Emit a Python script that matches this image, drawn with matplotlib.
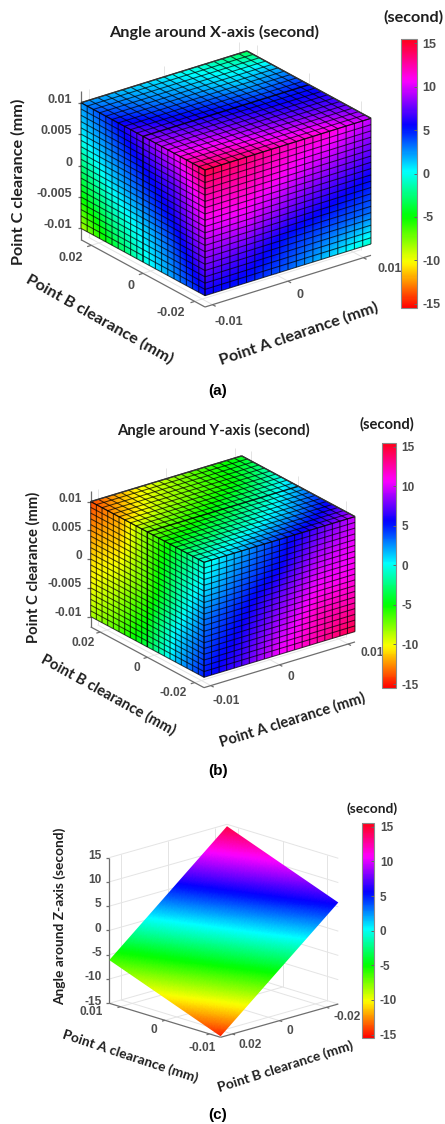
import numpy as np
import matplotlib
matplotlib.use("Agg")
import matplotlib.pyplot as plt
from matplotlib.cm import ScalarMappable
from matplotlib.collections import LineCollection
from matplotlib.colors import Normalize
from matplotlib.patches import Polygon
from matplotlib.transforms import Affine2D

plt.rcParams["axes.unicode_minus"] = False

# values, in seconds. rows run top to bottom (C) or along A,
# columns run along the horizontal of each face
xangle_top = [[2.5, 5, 8, 10.5, 14.5],
              [1.5, 3.5, 6.5, 10, 13.5],
              [0.5, 2.5, 5.5, 8.5, 12],
              [-1, 1, 4.5, 7.5, 11.5],
              [-3.5, 2, 5, 7, 9.5]]
xangle_left = [[2.5, 5, 8, 10.5, 14.5],
               [0.5, 3, 5.5, 7.5, 12],
               [-2.5, 1, 3.5, 6, 10],
               [-5, -1.5, 1, 4, 8],
               [-8.5, -4, -0.5, 2.5, 5.5]]
xangle_right = [[14.5, 13.5, 12, 11.5, 9.5],
                [12, 12, 10.5, 9, 7.5],
                [10, 10, 8, 6.5, 5.2],
                [8, 7, 5, 4, 3.2],
                [5.5, 5, 3.5, 1.2, -1]]

yangle_top = [[-14, -12, -7.5, -4, -0.5],
              [-11, -9, -6, -2.5, 2],
              [-8.5, -7, -4, -0.5, 4.5],
              [-6, -5, -1.5, 2, 7],
              [-4.5, -1.5, 2, 5.5, 9.5]]
yangle_left = [[-14, -12, -7.5, -4, -0.5],
               [-12.5, -11, -7, -2.5, 1],
               [-11, -9.5, -6.5, -1.5, 3],
               [-10, -8, -5, 0.5, 4],
               [-8.5, -6.5, -3.5, 1.5, 5]]
yangle_right = [[-0.5, 2, 4.5, 7, 9.5],
                [1, 3.5, 5.5, 9, 10.5],
                [3, 5, 7.5, 10.5, 11],
                [4, 6, 9, 12, 12.5],
                [5, 7, 10.5, 12.5, 14.5]]

# plane of panel c, [A low, A high] x [B low, B high]
zangle_plane = [[5.9, -14.8],
                [14.6, -6.3]]

cbar_ticks = [-15, -10, -5, 0, 5, 10, 15]
clearance_c_ticks = [-0.01, -0.005, 0, 0.005, 0.01]
clearance_c_labels = ["-0.01", "-0.005", "0", "0.005", "0.01"]
clearance_a_ticks = [-0.01, 0, 0.01]
clearance_a_labels = ["-0.01", "0", "0.01"]
clearance_b_ticks = [-0.02, 0, 0.02]
clearance_b_labels = ["-0.02", "0", "0.02"]
zangle_ticks = [-15, -10, -5, 0, 5, 10, 15]
zangle_labels = ["-15", "-10", "-5", "0", "5", "10", "15"]

W, H = 445, 1124
LABEL_FONT = "Lato"
TICK_FONT = "Liberation Sans"
TICK_COLOR = "#4d4d4d"
norm = Normalize(-15.5, 15.5)

fig = plt.figure(figsize=(W / 100, H / 100), dpi=100)
ax = fig.add_axes([0, 0, 1, 1])


class View:
    # plain parallel projection of one panel onto figure pixels
    def __init__(self, origin, avec, bvec, height, alim, blim, zlim):
        self.origin = np.array(origin, float)
        self.avec = np.array(avec, float)
        self.bvec = np.array(bvec, float)
        self.height = height
        self.alim, self.blim, self.zlim = alim, blim, zlim

    def __call__(self, a, b, z):
        fa = (a + self.alim) / (2 * self.alim)
        fb = (b + self.blim) / (2 * self.blim)
        fz = (self.zlim - z) / (2 * self.zlim)
        return self.origin + fa * self.avec + fb * self.bvec + np.array([0, fz * self.height])


def draw_face(values, p0, pu, pv, cells=None, mid=None):
    # values[v][u], knots sit on the face edges, imshow does the colour blending
    values = np.array(values, float)
    nv, nu = values.shape
    p0, pu, pv = np.array(p0), np.array(pu), np.array(pv)
    du = 0.5 / (nu - 1)
    dv = 0.5 / (nv - 1)
    m = np.array([[pu[0] - p0[0], pv[0] - p0[0], p0[0]],
                  [pu[1] - p0[1], pv[1] - p0[1], p0[1]],
                  [0, 0, 1]])
    im = ax.imshow(values, cmap="hsv", norm=norm, origin="lower", aspect="auto",
                   extent=(-du, 1 + du, -dv, 1 + dv), interpolation="bilinear",
                   interpolation_stage="data", transform=Affine2D(m) + ax.transData, zorder=3)
    corners = [p0, pu, pu + pv - p0, pv]
    im.set_clip_path(Polygon(corners, transform=ax.transData))
    if cells is None:
        return
    segs = []
    for f in np.linspace(0, 1, cells + 1):
        segs.append([p0 + f * (pu - p0), pv + f * (pu - p0)])
        segs.append([p0 + f * (pv - p0), pu + f * (pv - p0)])
    grid = LineCollection(segs, colors="black", linewidths=0.75, alpha=0.72, zorder=4)
    grid.set_snap(False)
    ax.add_collection(grid)
    if mid is not None:
        line = LineCollection([[p0 + mid * (pu - p0), pv + mid * (pu - p0)]],
                              colors="black", linewidths=1.1, alpha=0.6, zorder=4)
        line.set_snap(False)
        ax.add_collection(line)


def draw_box(view, zbot, ztop, aticks, bticks, zticks, wall_a, wall_b, edge_a, edge_b, zaxis):
    al, bl = view.alim, view.blim
    grid = []
    for z in zticks:
        grid.append([view(wall_a, -bl, z), view(wall_a, bl, z)])
        grid.append([view(-al, wall_b, z), view(al, wall_b, z)])
    for b in bticks:
        grid.append([view(wall_a, b, zbot), view(wall_a, b, ztop)])
        grid.append([view(-al, b, zbot), view(al, b, zbot)])
    for a in aticks:
        grid.append([view(a, wall_b, zbot), view(a, wall_b, ztop)])
        grid.append([view(a, -bl, zbot), view(a, bl, zbot)])
    ax.add_collection(LineCollection(grid, colors="#e4e4e4", linewidths=0.7, zorder=1))

    axes_lines = [[view(-al, edge_b, zbot), view(al, edge_b, zbot)],
                  [view(edge_a, -bl, zbot), view(edge_a, bl, zbot)],
                  [view(zaxis[0], zaxis[1], zbot), view(zaxis[0], zaxis[1], ztop)]]
    for a in aticks:
        q = view(a, edge_b, zbot)
        axes_lines.append([q, q - 0.025 * (view(a, -edge_b, zbot) - q)])
    for b in bticks:
        q = view(edge_a, b, zbot)
        axes_lines.append([q, q - 0.025 * (view(-edge_a, b, zbot) - q)])
    for z in zticks:
        q = view(zaxis[0], zaxis[1], z)
        axes_lines.append([q, q + np.array([-3.5, 0])])
    ax.add_collection(LineCollection(axes_lines, colors="#6e6e6e", linewidths=0.9, zorder=2))


def tick_texts(labels, places, ha="center", size=8.6):
    for s, (x, y) in zip(labels, places):
        ax.text(x, y, s, ha=ha, va="center", fontsize=size, family=TICK_FONT,
                fontweight="bold", color=TICK_COLOR, zorder=6)


def label(x, y, s, rot=0, size=11.7, color="#1f1f1f"):
    ax.text(x, y, s, ha="center", va="center", rotation=rot, rotation_mode="anchor",
            fontsize=size, family=LABEL_FONT, fontweight="bold", color=color, zorder=6)


def colorbar(x0, y0, x1, y1, size):
    cax = fig.add_axes([x0 / W, 1 - y1 / H, (x1 - x0) / W, (y1 - y0) / H])
    cb = fig.colorbar(ScalarMappable(norm=norm, cmap="hsv"), cax=cax, ticks=cbar_ticks)
    cb.outline.set_edgecolor("#8a8a8a")
    cb.outline.set_linewidth(0.8)
    cax.tick_params(length=2, width=0.7, color="#666666", direction="in", pad=4)
    for t in cax.get_yticklabels():
        t.set_family(TICK_FONT)
        t.set_fontweight("bold")
        t.set_fontsize(size)
        t.set_color(TICK_COLOR)


def cube(view, top, left, right, cells):
    al, bl, zl = view.alim, view.blim, view.zlim
    # top face: rows A low to high, columns B high to low
    draw_face(top, view(-al, bl, zl), view(-al, -bl, zl), view(al, bl, zl), cells, 0.5)
    # A low face: rows C high to low, columns B high to low
    draw_face(left, view(-al, bl, zl), view(-al, -bl, zl), view(-al, bl, -zl), cells, 0.5)
    # B low face: rows C high to low, columns A low to high
    draw_face(right, view(-al, -bl, zl), view(al, -bl, zl), view(-al, -bl, -zl), cells)
    edge = [[view(-al, bl, zl), view(al, bl, zl)], [view(al, bl, zl), view(al, -bl, zl)]]
    ax.add_collection(LineCollection(edge, colors="#333333", linewidths=1.0, zorder=5))


# panel a
va = View((205, 170), (166, -51.7), (-124, -67.3), 125.7, 0.011, 0.024, 0.01)
draw_box(va, -0.0118, 0.0118, clearance_a_ticks, clearance_b_ticks, clearance_c_ticks,
         0.011, 0.024, -0.011, -0.024, (-0.011, 0.024))
cube(va, xangle_top, xangle_left, xangle_right, 20)
tick_texts(clearance_c_labels, [(72, 225), (72, 194), (72, 163), (72, 131), (72, 100)], ha="right", size=9)
tick_texts(clearance_a_labels, [(229, 322), (300, 295), (390, 269)], size=9)
tick_texts(clearance_b_labels, [(171, 313), (131, 286), (71, 258)], size=9)
label(18, 182, "Point C clearance (mm)", 90)
label(100, 319, "Point B clearance (mm)", -29.5)
label(299, 334, "Point A clearance (mm)", 18.8)
label(214, 32, "Angle around X-axis (second)")
label(413, 17, "(second)")
colorbar(401, 39, 417, 308, 9)
ax.text(218, 391, "(a)", ha="center", va="center", fontsize=11, family=TICK_FONT, fontweight="bold", color="black")

# panel b
vb = View((204, 562.3), (151, -45.7), (-113.3, -60.7), 115, 0.011, 0.024, 0.01)
draw_box(vb, -0.0118, 0.0118, clearance_a_ticks, clearance_b_ticks, clearance_c_ticks,
         0.011, 0.024, -0.011, -0.024, (-0.011, 0.024))
cube(vb, yangle_top, yangle_left, yangle_right, 20)
tick_texts(clearance_c_labels, [(82, 612.7), (82, 584.3), (82, 556), (82, 528.3), (82, 499)], ha="right")
tick_texts(clearance_a_labels, [(226, 701), (290.7, 677), (371.7, 653)])
tick_texts(clearance_b_labels, [(173, 693), (137, 668), (82.7, 643)])
label(33, 567, "Point C clearance (mm)", 90, size=10.6)
label(108, 695, "Point B clearance (mm)", -29, size=10.6)
label(292, 720, "Point A clearance (mm)", 17.3, size=10.6)
label(213, 430.7, "Angle around Y-axis (second)", size=10.7)
label(386.7, 424, "(second)", size=10.6)
colorbar(382, 442.7, 396, 688, 8.5)
ax.text(218, 771, "(b)", ha="center", va="center", fontsize=11, family=TICK_FONT, fontweight="bold", color="black")

# panel c
vc = View((338.3, 858.3), (-111.3, -34), (-117.7, 33.3), 145.7, 0.0125, 0.025, 15)
draw_box(vc, -15, 15, clearance_a_ticks, clearance_b_ticks, zangle_ticks,
         0.0125, -0.025, -0.0125, 0.025, (0.0125, 0.025))
zp = np.array(zangle_plane)
draw_face(zp, vc(-0.0125, -0.025, zp[0, 0]), vc(-0.0125, 0.025, zp[0, 1]), vc(0.0125, -0.025, zp[1, 0]))
tick_texts(zangle_labels, [(101.7, 780 + y / 3) for y in (665, 592, 519, 446, 373, 300, 228)], ha="right")
tick_texts(clearance_a_labels, [(201.7, 1047.7), (154.3, 1030), (90.7, 1012)])
tick_texts(clearance_b_labels, [(346.7, 1017), (290, 1030.7), (250, 1045)])
label(59.3, 916, "Angle around Z-axis (second)", 90, size=9.9)
label(130, 1056, "Point A clearance (mm)", -18.3, size=9.9)
label(285, 1066.7, "Point B clearance (mm)", 17.7, size=9.9)
label(372, 809, "(second)", size=9.9)
colorbar(361.7, 823.3, 374.3, 1038, 8.5)
ax.text(218, 1115, "(c)", ha="center", va="center", fontsize=11, family=TICK_FONT, fontweight="bold", color="black")

ax.set_xlim(0, W)
ax.set_ylim(H, 0)
ax.axis("off")
fig.savefig("out.png", dpi=100)
